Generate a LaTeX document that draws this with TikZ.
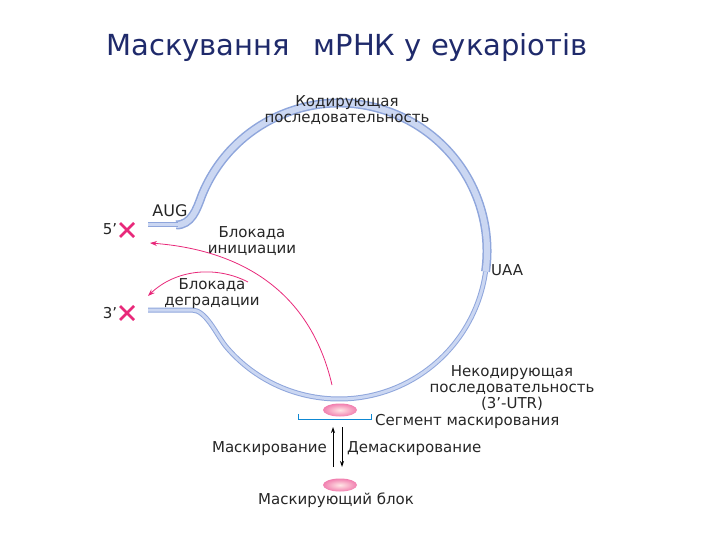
\documentclass[tikz,border=0pt]{standalone}
\usepackage{fontspec}
\setmainfont{DejaVu Sans}
\usetikzlibrary{arrows.meta,calc,shapes.geometric}
\definecolor{ttl}{HTML}{1F2A6B}
\definecolor{rnaout}{HTML}{8FA6DC}
\definecolor{rnain}{HTML}{CBD7F2}
\definecolor{pinkc}{HTML}{E8297A}
\tikzset{
 lbl/.style={font=\fontsize{15}{16}\selectfont, align=center, inner sep=1pt, text=black!85},
 pinkarrow/.style={pinkc, line width=0.8pt, -{Stealth[length=7pt,width=5pt]}},
 cross/.style={pinkc, line width=2.6pt},
 blob/.style={ellipse, minimum width=34pt, minimum height=13pt, inner sep=0, shade, inner color=white!60!pink, outer color=pinkc!60, draw=none},
}
\begin{document}
\begin{tikzpicture}[x=1pt,y=-1pt]
\useasboundingbox (0,0) rectangle (720,540);
\node[font=\fontsize{29}{32}\selectfont, text=ttl] (title) at (347,48) {Маскування\hspace{0.5em} мРНК у еукаріотів};
\coordinate (c) at (339,251);
\coordinate (uaapt) at ($(c)+(8:148)$);
\coordinate (lowl) at ($(c)+(140:148)$);
\coordinate (topl) at ($(c)+(-158:148)$);
% thin noncoding part
\foreach \w/\col in {5pt/rnaout,3pt/rnain}{
 \draw[\col, line width=\w, line join=round] (148,310) -- (192,310) .. controls (206,310) and (216,334) .. (lowl) arc[start angle=140, end angle=8, radius=148];
}
% coding part
\foreach \w/\col in {9pt/rnaout,6pt/rnain}{
 \draw[\col, line width=\w] (176,225) to[out=0,in=-110] (topl) arc[start angle=-158, end angle=8, radius=148];
}
\foreach \w/\col in {5pt/rnaout,3pt/rnain}{
 \draw[\col, line width=\w] (148,225) -- (178,225);
}
% crosses
\coordinate (x5) at (127,230);
\coordinate (x3) at (127,313);
\draw[cross] ($(x5)+(-7,-7)$) -- ($(x5)+(7,7)$) ($(x5)+(-7,7)$) -- ($(x5)+(7,-7)$);
\draw[cross] ($(x3)+(-7,-7)$) -- ($(x3)+(7,7)$) ($(x3)+(-7,7)$) -- ($(x3)+(7,-7)$);
\node[lbl] (l5) at (110,229) {5'};
\node[lbl] (l3) at (110,313) {3'};
\node[lbl, font=\fontsize{16}{16}\selectfont] (aug) at (170,211) {AUG};
\node[lbl, anchor=west] (uaa) at (490,270) {UAA};
\node[lbl] (cod) at (347,110) {Кодирующая\\последовательность};
\node[lbl] (bi) at (252,241) {Блокада\\инициации};
\node[lbl] (bd) at (212,294) {Блокада\\деградации};
\node[lbl] (nc) at (512,388) {Некодирующая\\последовательность\\(3'-UTR)};
% masking
\node[blob] (seg) at (340,410) {};
\coordinate (br1) at (298,414);
\coordinate (br2) at (371,414);
\draw[cyan!70!blue, line width=1pt] (br1) -- ++(0,5) -- ($(br2)+(0,5)$) -- (br2);
\node[lbl, anchor=west] (segl) at (374,421) {Сегмент маскирования};
\coordinate (u1) at (333,467); \coordinate (u2) at (333,427);
\coordinate (d1) at (342,427); \coordinate (d2) at (342,467);
\draw[line width=0.9pt, -{Stealth[length=6pt,width=4pt]}] (u1) -- (u2);
\draw[line width=0.9pt, -{Stealth[length=6pt,width=4pt]}] (d1) -- (d2);
\node[lbl, anchor=east] (mask) at (328,449) {Маскирование};
\node[lbl, anchor=west] (demask) at (346,449) {Демаскирование};
\node[blob] (blk) at (340,485) {};
\node[lbl] (blkl) at (336,500) {Маскирующий блок};
% pink arrows
\coordinate (s1) at (332,385);
\coordinate (e1) at (150,243);
\draw[pinkarrow] (s1) .. controls (310,290) and (240,250) .. (e1);
\coordinate (s2) at (248,282);
\coordinate (e2) at (148,296);
\draw[pinkarrow] (s2) .. controls (215,265) and (175,270) .. (e2);
\end{tikzpicture}
\end{document}
